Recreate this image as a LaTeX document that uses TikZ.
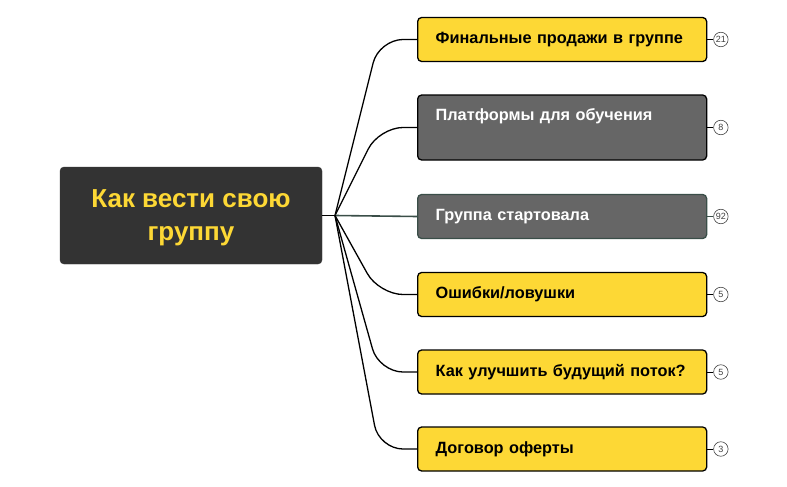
\documentclass[tikz,border=0pt]{standalone}
\usepackage{fontspec}
\setmainfont{Liberation Sans}
\usepackage{xcolor}
\usetikzlibrary{positioning,calc}

\definecolor{mapyellow}{HTML}{FDD835}
\definecolor{rootgrey}{HTML}{333333}
\definecolor{topicgrey}{HTML}{666666}
\definecolor{slate}{HTML}{3A4E48}

\begin{document}
\begin{tikzpicture}[
    x=1pt, y=-1pt,
    node distance=6pt,
    root/.style={draw=rootgrey, fill=rootgrey, rounded corners=4pt, minimum width=262pt, minimum height=97pt, align=center, font=\fontsize{26}{33}\selectfont\bfseries, text=mapyellow, text depth=0pt},
    topic/.style={draw=black, line width=1.3pt, rounded corners=4pt, anchor=west, minimum width=289pt, minimum height=44pt, text width=253pt, inner xsep=18pt, align=left, font=\fontsize{16.3}{19}\selectfont\bfseries, fill=mapyellow},
    greytopic/.style={topic, fill=topicgrey, text=white},
    badge/.style={circle, draw=black!75, fill=white, line width=0.6pt, minimum size=14.5pt, inner sep=0pt, font=\fontsize{9}{9}\selectfont, text=black!75},
    branch/.style={line width=1.3pt, rounded corners=24pt},
    stub/.style={line width=1pt}
]
\useasboundingbox (0,0) rectangle (787,487);

\node[root] (root) at (191,215.5) {Как вести свою\hspace{7pt}\\группу};
\coordinate (hub) at (335,215.5);

\node[topic] (final) at (417,39.5) {Финальные продажи в группе};
\node[greytopic, minimum height=65pt, text depth=25pt] (platf) at (417,127.5) {Платформы для обучения};
\node[greytopic, draw=slate] (start) at (417,216.5) {Группа стартовала};
\node[topic] (errors) at (417,294.5) {Ошибки/ловушки};
\node[topic] (better) at (417,372) {Как улучшить будущий поток?};
\node[topic] (offer) at (417,449) {Договор оферты};

\node[badge, right=of final] (final-n) {21};
\node[badge, right=of platf] (platf-n) {8};
\node[badge, right=of start] (start-n) {92};
\node[badge, right=of errors] (errors-n) {5};
\node[badge, right=of better] (better-n) {5};
\node[badge, right=of offer] (offer-n) {3};

\draw[line width=1.3pt] (hub -| root.east) -- (hub);
\draw[branch] (hub) -- ([xshift=-38pt]final.west) -- (final.west);
\draw[branch] (hub) -- ([xshift=-38pt]platf.west) -- (platf.west);
\draw[branch, draw=slate, line width=1.6pt] (hub) -- (start.west);
\draw[branch] (hub) -- ([xshift=-38pt]errors.west) -- (errors.west);
\draw[branch] (hub) -- ([xshift=-38pt]better.west) -- (better.west);
\draw[branch] (hub) -- ([xshift=-38pt]offer.west) -- (offer.west);

\draw[stub] (final.east) -- (final-n);
\draw[stub] (platf.east) -- (platf-n);
\draw[stub, draw=slate] (start.east) -- (start-n);
\draw[stub] (errors.east) -- (errors-n);
\draw[stub] (better.east) -- (better-n);
\draw[stub] (offer.east) -- (offer-n);
\end{tikzpicture}
\end{document}
